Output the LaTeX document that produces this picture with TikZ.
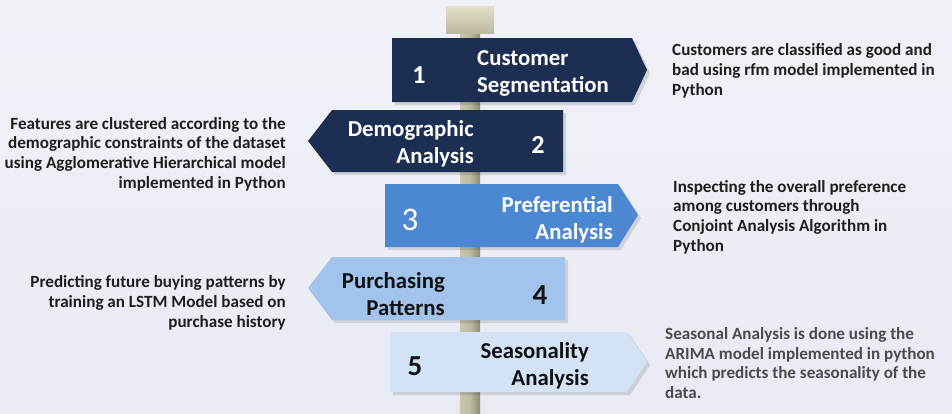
\documentclass[tikz,border=0pt]{standalone}
\usepackage{fontspec}
\setmainfont{Carlito}
\definecolor{bgtop}{HTML}{F1F2F8}
\definecolor{bgbot}{HTML}{E8EBF4}
\definecolor{navy}{HTML}{1C2E52}
\definecolor{midblue}{HTML}{4C88D2}
\definecolor{lightblue}{HTML}{A2C3EB}
\definecolor{paleblue}{HTML}{D3E3F5}
\definecolor{poleA}{HTML}{8E8B74}
\definecolor{poleB}{HTML}{C9C6AE}
\definecolor{capA}{HTML}{E3E0CB}
\definecolor{capB}{HTML}{BDB9A0}
\definecolor{desc}{HTML}{1E1E1E}
\definecolor{darktxt}{HTML}{111111}
\tikzset{
  signtext/.style={font=\bfseries\fontsize{22.8}{27}\selectfont, inner sep=0pt},
  signnum/.style={font=\bfseries\fontsize{26}{28}\selectfont, inner sep=0pt},
  desctext/.style={font=\bfseries\fontsize{17.1}{19.7}\selectfont, text=desc, inner sep=0pt},
  shadowfill/.style={fill=black, opacity=0.12},
}
\begin{document}
\begin{tikzpicture}[x=1pt,y=-1pt]
\useasboundingbox (0,0) rectangle (952,413);
\shade[top color=bgtop, bottom color=bgbot] (0,0) rectangle (952,413);
% pole
\shade[left color=poleB, right color=poleA, middle color=poleB!80!poleA] (460,25) rectangle (480,413);
\shade[top color=capA, bottom color=capB] (446,6) rectangle (494,33);
% signs
\fill[shadowfill] (395,41) -- (635,41) -- (650,73) -- (635,105) -- (395,105) -- cycle;
\fill[navy] (392,38) coordinate (s1) -- (632,38) -- (647,70) -- (632,102) -- (392,102) -- cycle;
\fill[shadowfill] (566,113) -- (335,113) -- (311,144) -- (335,175) -- (566,175) -- cycle;
\fill[navy] (563,110) coordinate (s2) -- (332,110) -- (308,141) -- (332,172) -- (563,172) -- cycle;
\fill[shadowfill] (388,187) -- (621,187) -- (641,218) -- (621,250) -- (388,250) -- cycle;
\fill[midblue] (385,184) coordinate (s3) -- (618,184) -- (638,215) -- (618,247) -- (385,247) -- cycle;
\fill[shadowfill] (568,260) -- (335,260) -- (311,291) -- (335,323) -- (568,323) -- cycle;
\fill[lightblue] (565,257) coordinate (s4) -- (332,257) -- (308,288) -- (332,320) -- (565,320) -- cycle;
\fill[shadowfill] (393,335) -- (630,335) -- (650,365) -- (630,395) -- (393,395) -- cycle;
\fill[paleblue] (390,332) coordinate (s5) -- (627,332) -- (647,362) -- (627,392) -- (390,392) -- cycle;
% sign texts
\node[signnum, text=white] (n1) at (419,75) {1};
\node[signtext, text=white, anchor=west, align=left] (t1) at (477,73) {Customer\\Segmentation};
\node[signtext, text=white, anchor=east, align=right] (t2) at (474,144) {Demographic\\Analysis};
\node[signnum, text=white] (n2) at (538,145) {2};
\node[font=\fontsize{33}{35}\selectfont, inner sep=0pt, text=white] (n3) at (410,220) {3};
\node[signtext, text=darktxt, anchor=east, align=right, text=white] (t3) at (613,220) {Preferential\\Analysis};
\node[signtext, text=darktxt, anchor=east, align=right] (t4) at (445,294) {Purchasing\\Patterns};
\node[signnum, text=darktxt, font=\bfseries\fontsize{29}{30}\selectfont] (n4) at (540,295) {4};
\node[signnum, text=darktxt, font=\bfseries\fontsize{29}{30}\selectfont] (n5) at (415,366) {5};
\node[signtext, text=darktxt, anchor=east, align=right] (t5) at (589,366) {Seasonality\\Analysis};
% descriptions
\node[desctext, anchor=west, align=left] (d1) at (672,71) {Customers are classified as good and\\bad using rfm model implemented in\\Python};
\node[desctext, anchor=east, align=right] (d2) at (286,154) {Features are clustered according to the\\demographic constraints of the dataset\\using Agglomerative Hierarchical model\\implemented in Python};
\node[desctext, anchor=west, align=left] (d3) at (673,217) {Inspecting the overall preference\\among customers through\\Conjoint Analysis Algorithm in\\Python};
\node[desctext, anchor=east, align=right] (d4) at (286,303) {Predicting future buying patterns by\\training an LSTM Model based on\\purchase history};
\node[desctext, anchor=west, align=left, text=desc!80!white] (d5) at (665,363) {Seasonal Analysis is done using the\\ARIMA model implemented in python\\which predicts the seasonality of the\\data.};
\end{tikzpicture}
\end{document}
